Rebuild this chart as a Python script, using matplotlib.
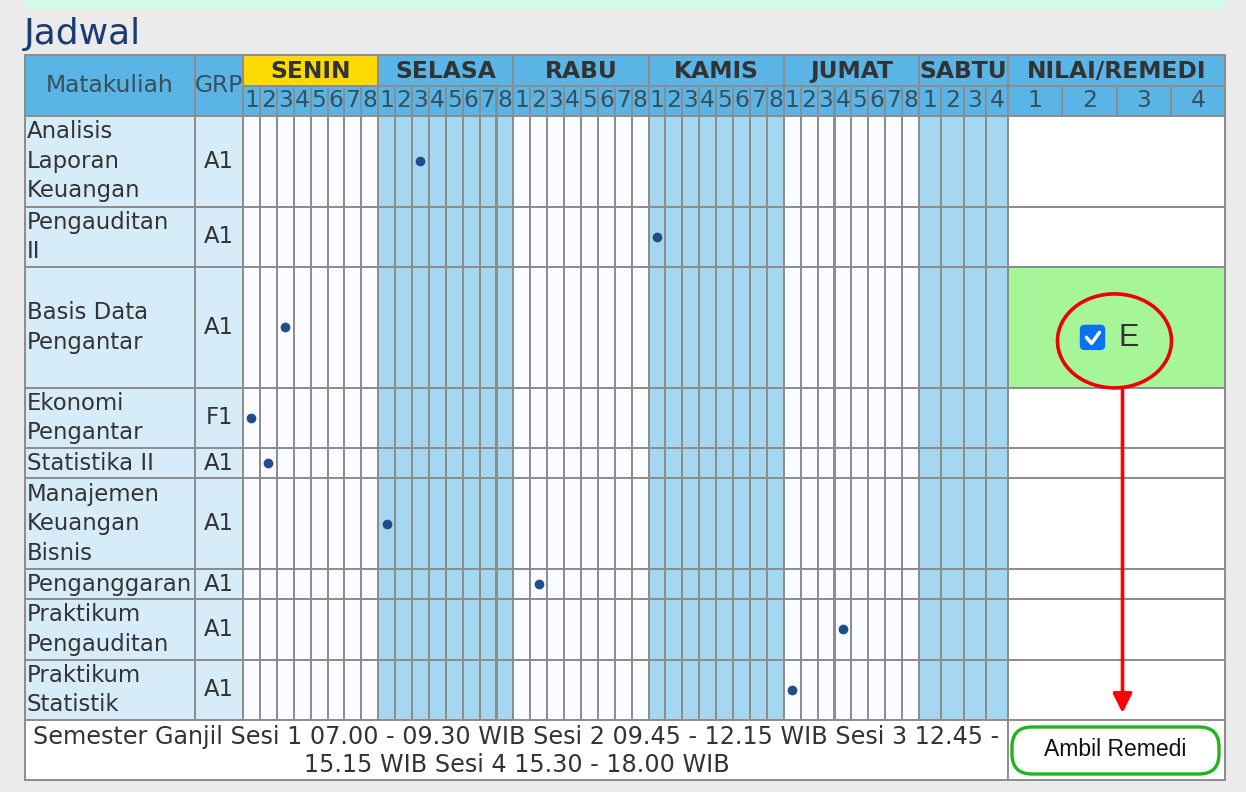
"""
Jadwal kuliah - rekreasi tabel jadwal dengan matplotlib
"""

import matplotlib.pyplot as plt
import matplotlib.patches as patches

# ---- data ----
courses = ["Analisis\nLaporan\nKeuangan", "Pengauditan\nII", "Basis Data\nPengantar",
           "Ekonomi\nPengantar", "Statistika II", "Manajemen\nKeuangan\nBisnis",
           "Penganggaran", "Praktikum\nPengauditan", "Praktikum\nStatistik"]
groups = ["A1", "A1", "A1", "F1", "A1", "A1", "A1", "A1", "A1"]
row_units = [3, 2, 4, 2, 1, 3, 1, 2, 2]
days = ["SENIN", "SELASA", "RABU", "KAMIS", "JUMAT", "SABTU"]
sessions_per_day = [8, 8, 8, 8, 8, 4]
slot_day = ["SELASA", "KAMIS", "SENIN", "SENIN", "SENIN", "SELASA", "RABU", "JUMAT", "JUMAT"]
slot_session = [3, 1, 3, 1, 2, 1, 2, 4, 1]
nilai_cols = ["1", "2", "3", "4"]
remedi_course = "Basis Data\nPengantar"
remedi_grade = "E"
footer_text = ["Semester Ganjil Sesi 1 07.00 - 09.30 WIB Sesi 2 09.45 - 12.15 WIB Sesi 3 12.45 -",
               "15.15 WIB Sesi 4 15.30 - 18.00 WIB"]

# ---- layout (pixels) ----
W, H = 1246, 792
left, right = 25, 1225
top = 55
hdr_h = 30.5
unit_h = 30.2
mk_w, grp_w = 170, 48
ses_w = 16.9
sab_w = 22.25
footer_h = 60

grid = '#8c8c8c'
hdr_blue = '#5ab4e6'
light_blue = '#a5d8f0'
cell_blue = '#d6ecf8'
white = '#fbfcff'
txt = '#333333'
hdr_txt = '#36505c'
day_fill = {"SENIN": white, "SELASA": light_blue, "RABU": white,
            "KAMIS": light_blue, "JUMAT": white, "SABTU": light_blue}

fig = plt.figure(figsize=(W / 100, H / 100), dpi=100)
fig.patch.set_facecolor('#ebebeb')
ax = fig.add_axes([0, 0, 1, 1])
ax.set_xlim(0, W)
ax.set_ylim(H, 0)
ax.axis('off')

FS = 16.4
HFS = 16.8


def cell(x, y, w, h, fc):
    ax.add_patch(patches.Rectangle((x, y), w, h, facecolor=fc, edgecolor=grid,
                                   linewidth=1.4, zorder=2))


def lines_text(x, yc, s, ha='left'):
    parts = s.split('\n')
    n = len(parts)
    for i, p in enumerate(parts):
        ax.text(x, yc + (i - (n - 1) / 2) * 29.5, p, ha=ha, va='center',
                fontsize=FS, color=txt, zorder=5)


# strip + title
ax.add_patch(patches.Rectangle((left, 0), right - left, 10, facecolor='#d3fbe8',
                               edgecolor='none', zorder=1))
ax.text(left - 1, 34, "Jadwal", fontsize=26, color='#1b3c73', ha='left', va='center')

# column x positions
x_mk = left
x_grp = x_mk + mk_w
x_days = x_grp + grp_w
day_x = []
x = x_days
for d, n in zip(days, sessions_per_day):
    w = ses_w if n == 8 else sab_w
    day_x.append((x, w))
    x += n * w
x_nilai = x
nilai_w = (right - x_nilai) / len(nilai_cols)

# header
cell(x_mk, top, mk_w, 2 * hdr_h, hdr_blue)
ax.text(x_mk + mk_w / 2, top + hdr_h, "Matakuliah", ha='center', va='center',
        fontsize=HFS, color=hdr_txt, zorder=5)
cell(x_grp, top, grp_w, 2 * hdr_h, hdr_blue)
ax.text(x_grp + grp_w / 2, top + hdr_h, "GRP", ha='center', va='center',
        fontsize=HFS, color=hdr_txt, zorder=5)
for d, n, (x0, w) in zip(days, sessions_per_day, day_x):
    cell(x0, top, n * w, hdr_h, '#fcd900' if d == "SENIN" else hdr_blue)
    ax.text(x0 + n * w / 2, top + hdr_h / 2 + 1, d, ha='center', va='center',
            fontsize=HFS, fontweight='bold', color=txt, zorder=5)
    for s in range(n):
        cell(x0 + s * w, top + hdr_h, w, hdr_h, hdr_blue)
        ax.text(x0 + s * w + w / 2, top + 1.5 * hdr_h, str(s + 1), ha='center',
                va='center', fontsize=HFS, color=hdr_txt, zorder=5)
cell(x_nilai, top, right - x_nilai, hdr_h, hdr_blue)
ax.text((x_nilai + right) / 2, top + hdr_h / 2 + 1, "NILAI/REMEDI", ha='center',
        va='center', fontsize=HFS, fontweight='bold', color=txt, zorder=5)
for i, c in enumerate(nilai_cols):
    cell(x_nilai + i * nilai_w, top + hdr_h, nilai_w, hdr_h, hdr_blue)
    ax.text(x_nilai + (i + 0.5) * nilai_w, top + 1.5 * hdr_h, c, ha='center',
            va='center', fontsize=HFS, color=hdr_txt, zorder=5)

# body rows
y = top + 2 * hdr_h
for name, grp, units, sd, ss in zip(courses, groups, row_units, slot_day, slot_session):
    h = units * unit_h
    yc = y + h / 2
    cell(x_mk, y, mk_w, h, cell_blue)
    lines_text(x_mk + 2, yc, name)
    cell(x_grp, y, grp_w, h, cell_blue)
    lines_text(x_grp + grp_w / 2, yc, grp, ha='center')
    for d, n, (x0, w) in zip(days, sessions_per_day, day_x):
        for s in range(n):
            cell(x0 + s * w, y, w, h, day_fill[d])
        if d == sd:
            ax.plot(x0 + (ss - 0.5) * w, yc, 'o', color='#1d4f8a', markersize=6, zorder=6)
    is_remedi = name == remedi_course
    cell(x_nilai, y, right - x_nilai, h, '#a7f599' if is_remedi else '#ffffff')
    if is_remedi:
        # checkbox + grade, circled in red
        cx = (x_nilai + right) / 2
        cy = yc + 10
        remedi_x = cx + 6
        ax.add_patch(patches.FancyBboxPatch((cx - 36, cy - 12), 24, 24,
                                            boxstyle='round,pad=0,rounding_size=4',
                                            facecolor='#0b72ef', edgecolor='#0b72ef',
                                            zorder=6))
        ax.plot([cx - 30, cx - 25, cx - 17], [cy, cy + 6, cy - 5], color='white',
                lw=2.5, solid_capstyle='round', solid_joinstyle='round', zorder=7)
        ax.text(cx + 12, cy + 1, remedi_grade, ha='center', va='center', fontsize=22,
                family='Liberation Sans', color=txt, zorder=7)
        ax.add_patch(patches.Ellipse((cx - 2, yc + 13.5), 114, 94, facecolor='none',
                                     edgecolor='#ee0000', lw=2.6, zorder=8))
        ellipse_bottom = yc + 13.5 + 47
    y += h

# footer
cell(x_mk, y, x_nilai - x_mk, footer_h, '#ffffff')
for i, line in enumerate(footer_text):
    ax.text((x_mk + x_nilai) / 2, y + 17 + i * 28, line, ha='center', va='center',
            fontsize=17.2, color=txt, zorder=5)
cell(x_nilai, y, right - x_nilai, footer_h, '#ffffff')
ax.add_patch(patches.FancyBboxPatch((x_nilai + 4, y + 7), right - x_nilai - 10, 47,
                                    boxstyle='round,pad=0,rounding_size=20',
                                    facecolor='white', edgecolor='#1fb51f', lw=2.4, zorder=6))
ax.text((x_nilai + right) / 2 - 1, y + 30, "Ambil Remedi", ha='center', va='center',
        fontsize=16.5, family='Liberation Sans', color='#111111', zorder=7)

# arrow from remedi circle to the button
ax.annotate('', xy=(remedi_x, y - 7), xytext=(remedi_x, ellipse_bottom),
            arrowprops=dict(arrowstyle='-|>,head_length=0.4,head_width=0.2', color='#ff0000',
                            lw=2.6, mutation_scale=29, shrinkA=0, shrinkB=0), zorder=9)

plt.savefig('out.png', dpi=100)
